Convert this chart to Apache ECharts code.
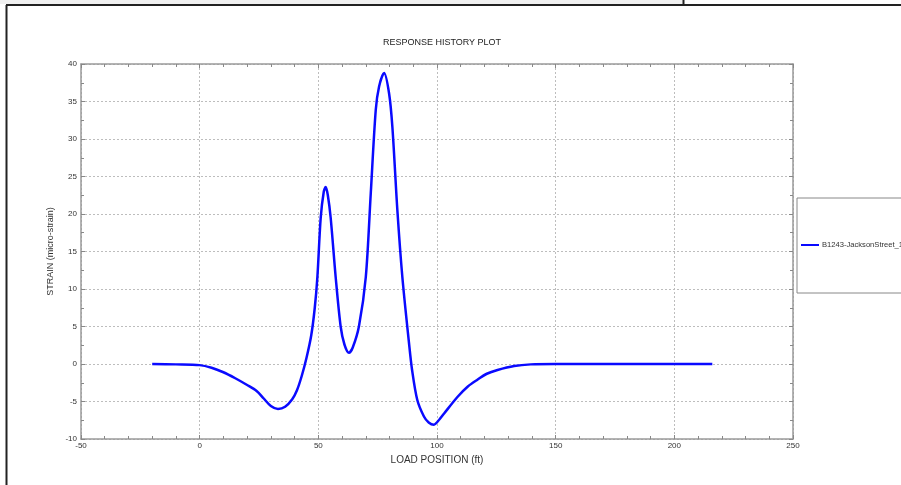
<!DOCTYPE html>
<html>
<head>
<meta charset="utf-8">
<script src="https://cdn.jsdelivr.net/npm/echarts@6/dist/echarts.min.js"></script>
<style>
html,body{margin:0;padding:0;background:#fff;}
#chart{width:901px;height:485px;}
</style>
</head>
<body>
<div id="chart"></div>
<script>
var titleText = 'RESPONSE HISTORY PLOT';
var xName = 'LOAD POSITION (ft)';
var yName = 'STRAIN (micro-strain)';
var seriesName = 'B1243-JacksonStreet_1';
var xTicks = [-50, 0, 50, 100, 150, 200, 250];
var yTicks = [-10, -5, 0, 5, 10, 15, 20, 25, 30, 35, 40];
var loadPos = [-20, -10, 0, 5, 10, 15, 20, 24, 27, 30, 33, 36, 39, 41, 43, 45, 47, 48.5, 49.6, 51, 52.3, 53.1, 54, 55.2, 57.3, 59.4, 61, 62.9, 64.5, 67.1, 70, 72.1, 74.2, 75.6, 77.7, 79.8, 81.2, 83.3, 85.4, 88.2, 89.5, 91.7, 94.5, 96.5, 98.7, 101, 103, 108.6, 113, 117, 121, 125.5, 132.5, 139.5, 150, 170, 190, 216];
var strain = [0, -0.05, -0.15, -0.5, -1.1, -1.9, -2.8, -3.6, -4.6, -5.6, -6.0, -5.7, -4.7, -3.5, -1.6, 0.8, 3.8, 7.5, 11.6, 19.5, 23.0, 23.6, 22.5, 19.5, 11.6, 5.0, 2.6, 1.5, 2.2, 5.0, 11.6, 22.8, 33.9, 37.0, 38.8, 36.1, 31.6, 20.5, 11.6, 2.8, -0.8, -4.8, -7.0, -7.8, -8.1, -7.4, -6.6, -4.4, -3.0, -2.1, -1.3, -0.8, -0.27, -0.05, 0, 0, 0, 0];

var pts = loadPos.map(function (x, i) { return [x, strain[i]]; });

var chart = echarts.init(document.getElementById('chart'), null, {renderer: 'canvas'});
var font = 'Liberation Sans, Arial, sans-serif';
var axisCol = '#9a9a9a';
var gridDot = {show: true, lineStyle: {color: '#bdbdbd', type: [2, 2], width: 1}};

function xAx(pos, showLabel) {
  return {
    type: 'value', position: pos, min: -50, max: 250, interval: 50,
    name: showLabel ? xName : '', nameLocation: 'middle', nameGap: 15,
    nameTextStyle: {fontFamily: font, fontSize: 10, color: '#333'},
    axisLine: {show: true, onZero: false, lineStyle: {color: axisCol, width: 1.5}},
    axisTick: {show: true, inside: true, length: 4, lineStyle: {color: '#888'}},
    minorTick: {show: true, splitNumber: 5, length: 3, lineStyle: {color: '#888'}},
    axisLabel: {show: showLabel, fontFamily: font, fontSize: 8, color: '#333', margin: 3,
      formatter: function (v) { return xTicks.indexOf(v) >= 0 ? String(v) : ''; }},
    splitLine: showLabel ? gridDot : {show: false}
  };
}
function yAx(pos, showLabel) {
  return {
    type: 'value', position: pos, min: -10, max: 40, interval: 5,
    name: showLabel ? yName : '', nameLocation: 'middle', nameGap: 21, nameRotate: 90,
    nameTextStyle: {fontFamily: font, fontSize: 9, color: '#333'},
    axisLine: {show: true, onZero: false, lineStyle: {color: axisCol, width: 1.5}},
    axisTick: {show: true, inside: true, length: 4, lineStyle: {color: '#888'}},
    minorTick: {show: true, splitNumber: 2, length: 3, lineStyle: {color: '#888'}},
    axisLabel: {show: showLabel, fontFamily: font, fontSize: 8, color: '#333', margin: 4,
      formatter: function (v) { return yTicks.indexOf(v) >= 0 ? String(v) : ''; }},
    splitLine: showLabel ? gridDot : {show: false}
  };
}

chart.setOption({
  animation: false,
  backgroundColor: '#ffffff',
  title: {text: titleText, left: 437, top: 33, textAlign: 'center',
    textStyle: {fontFamily: font, fontSize: 9, fontWeight: 'normal', color: '#222'}},
  grid: {left: 81, right: 108, top: 64, bottom: 46, containLabel: false},
  xAxis: [xAx('bottom', true), xAx('top', false)],
  yAxis: [yAx('left', true), yAx('right', false)],
  legend: {
    left: 797, top: 198, orient: 'vertical',
    padding: [43, 260, 44, 4],
    backgroundColor: '#ffffff', borderColor: '#888', borderWidth: 1,
    icon: 'rect', itemWidth: 18, itemHeight: 2, itemGap: 4,
    textStyle: {fontFamily: font, fontSize: 7.6, color: '#333', padding: [0, 0, 0, -2]},
    data: [seriesName]
  },
  graphic: [
    {type: 'rect', shape: {x: 0, y: 0, width: 683, height: 4}, style: {fill: '#f0f0f0'}, silent: true},
    {type: 'line', shape: {x1: 683.5, y1: 0, x2: 683.5, y2: 5}, style: {stroke: '#222', lineWidth: 2}, silent: true},
    {type: 'line', shape: {x1: 6, y1: 5, x2: 901, y2: 5}, style: {stroke: '#222', lineWidth: 2}, silent: true},
    {type: 'line', shape: {x1: 6.5, y1: 5, x2: 6.5, y2: 485}, style: {stroke: '#222', lineWidth: 2}, silent: true}
  ],
  series: [{
    name: seriesName, type: 'line', data: pts,
    showSymbol: false, smooth: 0.3,
    lineStyle: {color: '#0a0aff', width: 2.5},
    itemStyle: {color: '#0a0aff'}
  }]
});
</script>
</body>
</html>
